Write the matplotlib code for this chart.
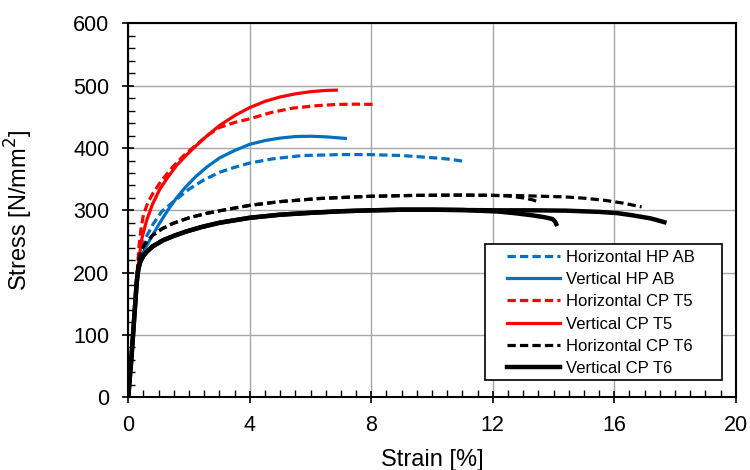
import matplotlib
matplotlib.use("Agg")
import matplotlib.pyplot as plt
from matplotlib.patches import Rectangle
from matplotlib.ticker import MultipleLocator

plt.rcParams["font.family"] = ["Liberation Sans", "DejaVu Sans"]

# strain [%] / stress [N/mm2]
hp_ab_h_x = [0, 0.1, 0.2, 0.3, 0.36, 0.45, 0.6, 0.82, 1.1, 1.59, 2.0, 2.46, 3.0, 3.5, 4.0,
             4.8, 5.75, 7.0, 7.94, 9.0, 10.14, 10.6, 11.0]
hp_ab_h_y = [0, 60, 130, 200, 225, 240, 258, 278, 298, 318, 334, 348, 361, 369, 376,
             383, 388, 389.5, 389.5, 388, 384, 382, 379]
hp_ab_v_x = [0, 0.1, 0.2, 0.3, 0.36, 0.45, 0.6, 0.8, 1.04, 1.3, 1.59, 1.9, 2.24, 2.6, 3.0,
             3.5, 4.0, 4.5, 5.0, 5.5, 6.0, 6.5, 7.15]
hp_ab_v_y = [0, 60, 130, 195, 215, 228, 243, 260, 280, 300, 320, 338, 355, 370, 384,
             396, 406, 412, 416, 418.5, 419, 418, 415.5]
cp_t5_h_x = [0, 0.1, 0.2, 0.3, 0.35, 0.42, 0.5, 0.65, 0.82, 1.1, 1.47, 1.85, 2.24, 2.6, 3.0,
             3.5, 4.0, 4.7, 5.4, 6.2, 6.85, 7.5, 8.16]
cp_t5_h_y = [0, 60, 130, 205, 240, 270, 293, 313, 328, 348, 370, 389, 405, 420, 433,
             441, 447, 457, 464, 468, 470, 470.5, 470]
cp_t5_v_x = [0, 0.1, 0.2, 0.3, 0.36, 0.45, 0.6, 0.8, 1.04, 1.3, 1.59, 1.9, 2.24, 2.6, 3.0,
             3.5, 4.0, 4.5, 5.0, 5.5, 6.0, 6.5, 6.85]
cp_t5_v_y = [0, 60, 130, 200, 225, 255, 283, 310, 334, 353, 372, 388, 404, 420, 436,
             452, 465, 475, 482, 487, 490.5, 492.5, 493]
cp_t6_h1_x = [0, 0.1, 0.2, 0.3, 0.35, 0.45, 0.6, 0.81, 1.1, 1.47, 2.0, 2.57, 3.2, 4.0, 5.0,
              6.3, 7.94, 9.5, 11.0, 12.0, 12.5, 13.0, 13.3, 13.5]
cp_t6_h1_y = [0, 60, 130, 200, 222, 238, 249, 260, 270, 279, 288, 295, 301, 308, 314,
              319, 322.5, 324, 324.5, 324, 323, 320, 317, 313.5]
cp_t6_h2_x = [0, 0.1, 0.2, 0.3, 0.35, 0.45, 0.6, 0.81, 1.1, 1.47, 2.0, 2.57, 3.2, 4.0, 5.0,
              6.3, 7.94, 9.5, 11.0, 12.0, 13.0, 14.4, 15.0, 15.7, 16.3, 16.9]
cp_t6_h2_y = [0, 60, 130, 200, 222, 238, 249, 260, 270, 279, 288, 295, 301, 308, 314,
              319, 322.5, 324, 324.5, 324, 323.5, 321.5, 319.5, 316, 311.5, 305.5]
cp_t6_v1_x = [0, 0.1, 0.2, 0.28, 0.33, 0.4, 0.5, 0.6, 0.8, 1.15, 1.5, 1.91, 2.4, 3.0, 3.5,
              4.0, 5.0, 6.0, 7.0, 8.0, 9.0, 10.0, 11.0, 12.2, 12.8, 13.3, 13.7, 13.97, 14.05, 14.09]
cp_t6_v1_y = [0, 60, 130, 185, 205, 218, 227, 233, 242, 252, 259, 266, 273, 280, 284,
              288, 293, 296, 298.5, 300, 301, 301, 300.5, 298, 295, 292, 289, 286, 282, 278]
cp_t6_v2_x = [0, 0.1, 0.2, 0.28, 0.33, 0.4, 0.5, 0.6, 0.8, 1.15, 1.5, 1.91, 2.4, 3.0, 3.5,
              4.0, 5.0, 6.0, 7.0, 8.0, 9.0, 10.0, 11.0, 12.2, 13.3, 14.4, 15.5, 16.1, 16.6, 17.2, 17.65]
cp_t6_v2_y = [0, 60, 130, 185, 205, 218, 227, 233, 242, 252, 259, 266, 273, 280, 284,
              288, 293, 296, 298.5, 300, 301, 301, 300.5, 300, 300, 299.5, 297.5, 295.5, 292, 287, 281]

BLUE = "#0070C0"
RED = "#FF0000"
DASH = (2.6, 1.3)

fig = plt.figure(figsize=(7.5, 4.7), dpi=100)
ax = fig.add_axes([0.171, 0.155, 0.81, 0.795])

ax.plot(hp_ab_h_x, hp_ab_h_y, color=BLUE, lw=2.3, dashes=DASH, label="Horizontal HP AB")
ax.plot(hp_ab_v_x, hp_ab_v_y, color=BLUE, lw=2.3, label="Vertical HP AB")
ax.plot(cp_t5_h_x, cp_t5_h_y, color=RED, lw=2.3, dashes=DASH, label="Horizontal CP T5")
ax.plot(cp_t5_v_x, cp_t5_v_y, color=RED, lw=2.3, label="Vertical CP T5")
ax.plot(cp_t6_h1_x, cp_t6_h1_y, color="black", lw=2.3, dashes=DASH, label="Horizontal CP T6")
ax.plot(cp_t6_h2_x, cp_t6_h2_y, color="black", lw=2.3, dashes=DASH)
ax.plot(cp_t6_v1_x, cp_t6_v1_y, color="black", lw=3.2, label="Vertical CP T6")
ax.plot(cp_t6_v2_x, cp_t6_v2_y, color="black", lw=3.2)

ax.set_xlim(0, 20)
ax.set_ylim(0, 600)
ax.xaxis.set_major_locator(MultipleLocator(4))
ax.xaxis.set_minor_locator(MultipleLocator(0.5))
ax.yaxis.set_major_locator(MultipleLocator(100))
ax.yaxis.set_minor_locator(MultipleLocator(20))
ax.tick_params(which="major", direction="inout", length=9, width=1.2, labelsize=15.5)
ax.tick_params(axis="x", which="major", pad=8)
ax.tick_params(axis="y", which="major", pad=9)
ax.tick_params(which="minor", direction="in", length=5, width=1.0)
ax.grid(which="major", color="#A6A6A6", lw=1.0)
ax.set_axisbelow(True)
for spine in ax.spines.values():
    spine.set_linewidth(1.5)

ax.set_xlabel("Strain [%]", fontsize=17)
ax.set_ylabel("Stress [N/mm$^2$]", fontsize=17)
ax.xaxis.set_label_coords(0.5, -0.138)
ax.yaxis.set_label_coords(-0.153, 0.5)

# legend box (Excel style, wide left padding)
ax.add_patch(Rectangle((0.587, 0.045), 0.39, 0.364, transform=ax.transAxes,
                       facecolor="white", edgecolor="black", lw=1.2, zorder=4))
leg = ax.legend(loc="upper left", bbox_to_anchor=(0.623, 0.395), fontsize=12,
                handlelength=3.2, handletextpad=0.35, labelspacing=0.44, borderpad=0,
                borderaxespad=0, frameon=False)
leg.set_zorder(5)

fig.savefig("out.png", dpi=100)
